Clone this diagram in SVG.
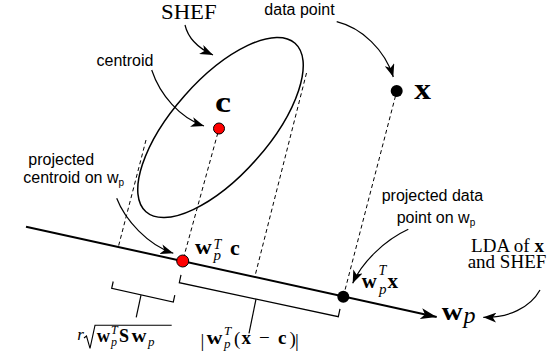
<svg xmlns="http://www.w3.org/2000/svg" width="559" height="363" viewBox="0 0 559 363">
<defs>
<style>
.sans{font-family:"Liberation Sans",Arial,sans-serif;font-size:16px;fill:#000}
.sub{font-size:10px}
.rm{font-family:"Liberation Serif","Times New Roman",serif;fill:#000}
.bf{font-family:"Liberation Serif","Times New Roman",serif;font-weight:bold;fill:#000}
.it{font-family:"Liberation Serif","Times New Roman",serif;font-style:italic;font-weight:normal}
.b{font-weight:bold;font-style:normal}
.dash{fill:none;stroke:#000;stroke-width:1;stroke-dasharray:4 3}
.thin{fill:none;stroke:#000;stroke-width:1.2}
.curve{fill:none;stroke:#000;stroke-width:1.2;marker-end:url(#ah)}
</style>
<marker id="ah" markerUnits="userSpaceOnUse" markerWidth="14" markerHeight="10" refX="13" refY="5" orient="auto" viewBox="0 0 14 10">
<path d="M0,0 L13,5 L0,10 L3.5,5 z" fill="#000"/>
</marker>
<marker id="bigah" markerUnits="userSpaceOnUse" markerWidth="17" markerHeight="11" refX="16" refY="5.5" orient="auto" viewBox="0 0 17 11">
<path d="M0,0 L16,5.5 L0,11 L4,5.5 z" fill="#000"/>
</marker>
</defs>

<g id="ellipse">
<ellipse cx="220.5" cy="127.5" rx="112.5" ry="48" transform="rotate(-48.5 220.5 127.5)" fill="none" stroke="#000" stroke-width="1.5"/>
</g>

<g id="connectors">
<line x1="26" y1="226.7" x2="436.7" y2="317" stroke="#000" stroke-width="2" marker-end="url(#bigah)"/>
<line class="dash" x1="146" y1="140" x2="118.3" y2="247"/>
<line class="dash" x1="217.8" y1="133" x2="183.5" y2="258"/>
<line class="dash" x1="306.5" y1="73" x2="255" y2="276"/>
<line class="dash" x1="395.5" y1="96" x2="344.5" y2="292"/>
<path class="thin" d="M113.2,281.5 L111.7,288.3 L173.3,302 L174.8,295.2"/>
<line class="thin" x1="141" y1="295.2" x2="136.2" y2="317.3"/>
<path class="thin" d="M181,274.9 L179.3,282.7 L338.3,316.7 L340,308.9"/>
<line class="thin" x1="256" y1="299.1" x2="249" y2="333.3"/>
<path class="curve" d="M185,25 C188,38 198,48 213,55"/>
<path class="curve" d="M151.7,70 C160,95 180,118 204,126"/>
<path class="curve" d="M336.7,21.7 C362,28 385,50 393.3,77"/>
<path class="curve" d="M116.7,198.3 C125,220 148,245 173.3,253.3"/>
<path class="curve" d="M408.3,229.3 C385,240 362,262 352.7,283.3"/>
<path class="curve" d="M540,290 C530,308 508,318 483.3,317.3"/>
</g>

<g id="centroid">
<circle cx="219" cy="128.5" r="5.5" fill="#f00" stroke="#000" stroke-width="1"/>
<text class="bf" x="215" y="112.3" font-size="30" textLength="16" lengthAdjust="spacingAndGlyphs">c</text>
</g>

<g id="datapoint">
<circle cx="396.7" cy="91" r="6" fill="#000"/>
<text class="bf" x="414.3" y="99.3" font-size="29" textLength="16.7" lengthAdjust="spacingAndGlyphs">x</text>
</g>

<g id="projected-centroid">
<circle cx="182.7" cy="261" r="6" fill="#f00" stroke="#000" stroke-width="1"/>
<text class="bf" font-size="21"><tspan x="195" y="254" textLength="16.7" lengthAdjust="spacingAndGlyphs">w</tspan><tspan class="it" x="213.5" y="248.6" font-size="14">T</tspan><tspan class="it" x="213.5" y="260" font-size="15">p</tspan><tspan x="230" y="255" font-size="22">c</tspan></text>
</g>

<g id="projected-datapoint">
<circle cx="343.3" cy="296.7" r="6" fill="#000"/>
<text class="bf" font-size="21"><tspan x="361.7" y="288.3" textLength="15" lengthAdjust="spacingAndGlyphs">w</tspan><tspan class="it" x="378.5" y="274.5" font-size="14">T</tspan><tspan class="it" x="379" y="293.5" font-size="15">p</tspan><tspan x="387.5" y="288.3">x</tspan></text>
</g>

<g id="wp-label">
<text class="bf" font-size="26"><tspan x="441.7" y="320" textLength="21" lengthAdjust="spacingAndGlyphs">w</tspan><tspan class="it" x="463.5" y="323" font-size="24">p</tspan></text>
</g>

<g id="label-shef">
<text class="rm" x="161" y="19.3" font-size="21" textLength="55.7" lengthAdjust="spacingAndGlyphs">SHEF</text>
</g>
<g id="label-centroid">
<text class="sans" x="125" y="66" text-anchor="middle">centroid</text>
</g>
<g id="label-datapoint">
<text class="sans" x="299.5" y="15" text-anchor="middle">data point</text>
</g>
<g id="label-projected-centroid">
<text class="sans"><tspan x="28.3" y="165">projected</tspan><tspan x="23.3" y="182.5">centroid on w</tspan><tspan class="sub" dy="3">p</tspan></text>
</g>
<g id="label-projected-datapoint">
<text class="sans"><tspan x="381.7" y="200.7">projected data</tspan><tspan x="396.7" y="223">point on w</tspan><tspan class="sub" dy="3">p</tspan></text>
</g>
<g id="label-lda">
<text class="rm" font-size="19" text-anchor="middle"><tspan x="507.5" y="251.7">LDA of <tspan class="b">x</tspan></tspan><tspan x="507" y="268.3">and SHEF</tspan></text>
</g>

<g id="label-spread">
<path d="M84,338 L86.5,336 L90,348.3 L95,325.3 L171.7,325.3" fill="none" stroke="#000" stroke-width="1.1"/>
<text class="bf" font-size="18"><tspan class="it" x="77.3" y="340" font-size="17">r</tspan><tspan x="96.7" y="341.7" textLength="13.3" lengthAdjust="spacingAndGlyphs">w</tspan><tspan class="it" x="111" y="334" font-size="12">T</tspan><tspan class="it" x="111" y="346" font-size="12">p</tspan><tspan x="119" y="341.7">S</tspan><tspan x="131.5" y="341.7" textLength="15" lengthAdjust="spacingAndGlyphs">w</tspan><tspan class="it" x="148" y="346" font-size="13">p</tspan></text>
</g>

<g id="label-distance">
<text class="bf" font-size="19"><tspan class="rm" font-weight="normal" x="200.5" y="347">|</tspan><tspan x="206.5" y="344" textLength="16" lengthAdjust="spacingAndGlyphs">w</tspan><tspan class="it" x="224" y="335" font-size="13">T</tspan><tspan class="it" x="224" y="348" font-size="13">p</tspan><tspan font-weight="normal" x="234" y="345">(</tspan><tspan x="241.5" y="344">x</tspan><tspan font-weight="normal" x="259" y="344">−</tspan><tspan x="278" y="344">c</tspan><tspan font-weight="normal" x="289.5" y="345">)</tspan><tspan font-weight="normal" x="295" y="347">|</tspan></text>
</g>
</svg>
